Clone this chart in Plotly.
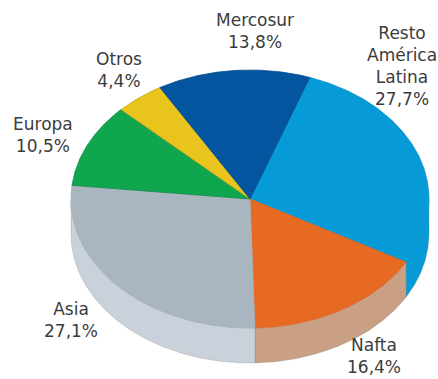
import numpy as np
import plotly.graph_objects as go

# Export share by region, clockwise from the Resto América Latina wedge
categories = ["Resto<br>América<br>Latina", "Nafta", "Asia", "Europa", "Otros", "Mercosur"]
values = [27.7, 16.4, 27.1, 10.5, 4.4, 13.8]
top_colors = ["#069bd6", "#e76a22", "#a9b6bf", "#0fa64e", "#e9c41c", "#03559f"]
side_colors = ["#069bd6", "#c9a084", "#c9d2da", "#0fa64e", "#e9c41c", "#03559f"]
edge_colors = ["#0a8fc6", "#d9641f", "#a3b0b9", "#0b8a44", "#c9a81a", "#044b8a"]
label_x = [402, 374, 71, 43, 119, 255]
label_y = [66, 356, 320, 135, 70, 31]

# Tilted-disc projection of the pie
CX, CY, RX, RY, DEPTH = 250, 199, 179, 129, 35
START_DEG = 19.5
FULL = sum(values)


def rim(a_deg, b_deg, drop=0.0):
    t = np.radians(np.linspace(a_deg, b_deg, max(int(abs(b_deg - a_deg)) * 2, 2)))
    return CX + RX * np.sin(t), CY + drop - RY * np.cos(t)


bounds = START_DEG + np.concatenate([[0], np.cumsum(values)]) / FULL * 360

fig = go.Figure()

# Side wall: only the part of the rim that faces the viewer
for a, b, col in zip(bounds[:-1], bounds[1:], side_colors):
    lo, hi = max(a, 90), min(b, 270)
    if lo >= hi:
        continue
    x1, y1 = rim(lo, hi)
    x2, y2 = rim(hi, lo, DEPTH)
    fig.add_trace(go.Scatter(
        x=np.concatenate([x1, x2, x1[:1]]), y=np.concatenate([y1, y2, y1[:1]]),
        mode="lines", fill="toself", fillcolor=col,
        line=dict(color="rgba(120,120,120,0.25)", width=1), hoverinfo="skip",
    ))

# Top face wedges
for a, b, col, edge in zip(bounds[:-1], bounds[1:], top_colors, edge_colors):
    x, y = rim(a, b)
    fig.add_trace(go.Scatter(
        x=np.concatenate([[CX], x, [CX]]), y=np.concatenate([[CY], y, [CY]]),
        mode="lines", fill="toself", fillcolor=col,
        line=dict(color=edge, width=0.8), hoverinfo="skip",
    ))

for name, val, lx, ly in zip(categories, values, label_x, label_y):
    fig.add_annotation(
        x=lx, y=ly, text=f"{name}<br>{val:.1f}%".replace(".", ","),
        showarrow=False, xanchor="center", yanchor="middle", align="center",
        font=dict(family="DejaVu Sans", size=17, color="#3c3c3c"),
    )

fig.update_layout(
    width=438, height=379, margin=dict(l=0, r=0, t=0, b=0),
    paper_bgcolor="white", plot_bgcolor="white", showlegend=False,
    xaxis=dict(range=[0, 438], visible=False, fixedrange=True),
    yaxis=dict(range=[379, 0], visible=False, fixedrange=True),
)
fig.write_html("out.html", config=dict(displayModeBar=False))
